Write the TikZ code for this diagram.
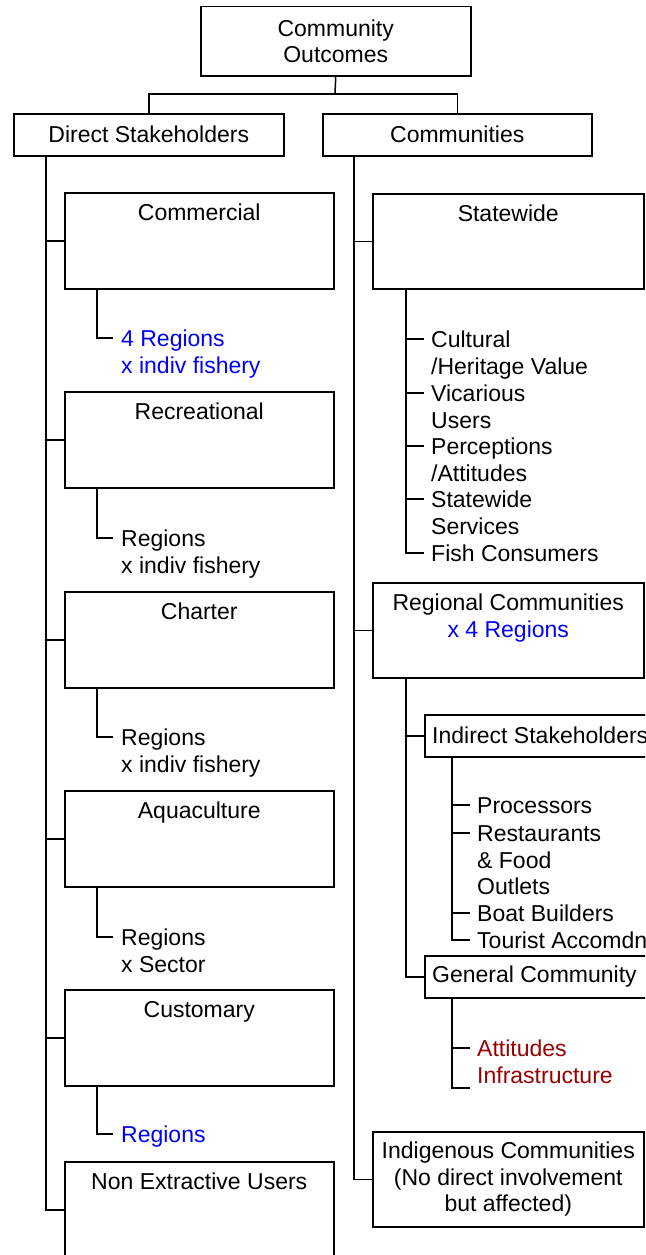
\documentclass[tikz,border=0pt]{standalone}
\usepackage{fontspec}
\setmainfont{Liberation Sans}
\definecolor{regblue}{RGB}{0,0,255}
\definecolor{attred}{RGB}{150,0,0}
\tikzset{
  box/.style={draw,line width=1.5pt,inner sep=0pt,anchor=north west},
  lbox/.style={box,minimum width=269pt,minimum height=96pt},
  rbox/.style={box,minimum width=271pt,minimum height=95pt},
  head/.style={anchor=north,inner sep=0pt,align=center},
  item/.style={anchor=north west,inner sep=0pt,align=left},
  link/.style={line width=1.5pt}
}

\begin{document}
\begin{tikzpicture}[x=1pt,y=-1pt,font=\fontsize{23}{26.7}\selectfont]
\useasboundingbox (0,0) rectangle (645,1255);
\clip (0,0) rectangle (645,1255);

\node[box,minimum width=270pt,minimum height=69pt,align=center] (co) at (200,6) {Community\\Outcomes};
\node[box,minimum width=270pt,minimum height=42pt] (ds) at (13,113) {Direct Stakeholders};
\node[box,minimum width=269pt,minimum height=42pt] (cm) at (322,113) {Communities};
\coordinate (split) at (335,94);
\draw[link] (co.south) -- (split);
\draw[link] (ds.north) |- (split) -| (cm.north);

\node[lbox] (comm) at (64,192) {};
\node[head] (commt) at ([yshift=-10pt]comm.north) {\strut Commercial};
\node[lbox] (rec) at (64,391) {};
\node[head] (rect) at ([yshift=-10pt]rec.north) {\strut Recreational};
\node[lbox] (cha) at (64,591) {};
\node[head] (chat) at ([yshift=-10pt]cha.north) {\strut Charter};
\node[lbox] (aqu) at (64,790) {};
\node[head] (aqut) at ([yshift=-10pt]aqu.north) {\strut Aquaculture};
\node[lbox] (cus) at (64,989) {};
\node[head] (cust) at ([yshift=-10pt]cus.north) {\strut Customary};
\node[lbox] (ne) at (64,1161) {};
\node[head] (net) at ([yshift=-10pt]ne.north) {\strut Non Extractive Users};

\node[item,text=regblue] (commr) at (121,327.5) {\strut 4 Regions\\x indiv fishery};
\node[item] (recr) at (121,527.5) {\strut Regions\\x indiv fishery};
\node[item] (char) at (121,726.5) {\strut Regions\\x indiv fishery};
\node[item] (aqur) at (121,926.5) {\strut Regions\\x Sector};
\node[item,text=regblue] (cusr) at (121,1123.5) {\strut Regions};

\coordinate (dstrunk) at ([xshift=33pt]ds.south west);
\draw[link] (dstrunk) |- (ne.west);
\draw[link] (comm.west) -- (comm.west -| dstrunk);
\draw[link] (rec.west) -- (rec.west -| dstrunk);
\draw[link] (cha.west) -- (cha.west -| dstrunk);
\draw[link] (aqu.west) -- (aqu.west -| dstrunk);
\draw[link] (cus.west) -- (cus.west -| dstrunk);
\draw[link] ([xshift=33pt]comm.south west) |- ([xshift=-8pt,yshift=-10.5pt]commr.north west);
\draw[link] ([xshift=33pt]rec.south west) |- ([xshift=-8pt,yshift=-10.5pt]recr.north west);
\draw[link] ([xshift=33pt]cha.south west) |- ([xshift=-8pt,yshift=-10.5pt]char.north west);
\draw[link] ([xshift=33pt]aqu.south west) |- ([xshift=-8pt,yshift=-10.5pt]aqur.north west);
\draw[link] ([xshift=33pt]cus.south west) |- ([xshift=-8pt,yshift=-10.5pt]cusr.north west);

\node[rbox] (sw) at (372,193) {};
\node[head] (swt) at ([yshift=-10pt]sw.north) {\strut Statewide};
\node[rbox] (rc) at (372,582) {};
\node[head] (rct) at ([yshift=-10pt]rc.north) {\strut Regional Communities\\\textcolor{regblue}{x 4 Regions}};
\node[rbox,align=center] (ind) at (372,1131) {Indigenous Communities\\(No direct involvement\\but affected)};
\node[box,minimum width=260pt,minimum height=42pt] (ist) at (424,714) {};
\node[anchor=west,inner sep=0pt] (istt) at ([xshift=8pt]ist.west) {Indirect Stakeholders};
\node[box,minimum width=260pt,minimum height=42pt] (gen) at (424,955) {};
\node[anchor=west,inner sep=0pt] (gent) at ([xshift=8pt]gen.west) {General Community};

\node[item] (swa) at (431,328.5) {\strut Cultural\\/Heritage Value};
\node[item] (swb) at (431,382.5) {\strut Vicarious\\Users};
\node[item] (swc) at (431,435.5) {\strut Perceptions\\/Attitudes};
\node[item] (swd) at (431,488.5) {\strut Statewide\\Services};
\node[item] (swe) at (431,542.5) {\strut Fish Consumers};
\node[item] (isa) at (477,794.5) {\strut Processors};
\node[item] (isb) at (477,822.5) {\strut Restaurants\\\& Food\\Outlets};
\node[item] (isc) at (477,902.5) {\strut Boat Builders};
\node[item] (isd) at (477,929.5) {\strut Tourist Accomdn};
\node[item,text=attred] (gena) at (477,1037.5) {\strut Attitudes\\Infrastructure};

\coordinate (cmtrunk) at ([xshift=32pt]cm.south west);
\draw[link] (cmtrunk) |- (ind.west);
\draw[link] (sw.west) -- (sw.west -| cmtrunk);
\draw[link] (rc.west) -- (rc.west -| cmtrunk);

\coordinate (swtrunk) at ([xshift=34pt]sw.south west);
\draw[link] (swtrunk) |- ([xshift=-7pt,yshift=-10.5pt]swe.north west);
\draw[link] ([xshift=-7pt,yshift=-10.5pt]swa.north west) -- ++(-18,0);
\draw[link] ([xshift=-7pt,yshift=-10.5pt]swb.north west) -- ++(-18,0);
\draw[link] ([xshift=-7pt,yshift=-10.5pt]swc.north west) -- ++(-18,0);
\draw[link] ([xshift=-7pt,yshift=-10.5pt]swd.north west) -- ++(-18,0);

\coordinate (rctrunk) at ([xshift=34pt]rc.south west);
\draw[link] (rctrunk) |- (gen.west);
\draw[link] (ist.west) -- (ist.west -| rctrunk);

\coordinate (isttrunk) at ([xshift=28pt]ist.south west);
\draw[link] (isttrunk) |- ([xshift=-7pt,yshift=-10.5pt]isd.north west);
\draw[link] ([xshift=-7pt,yshift=-10.5pt]isa.north west) -- ++(-18,0);
\draw[link] ([xshift=-7pt,yshift=-10.5pt]isb.north west) -- ++(-18,0);
\draw[link] ([xshift=-7pt,yshift=-10.5pt]isc.north west) -- ++(-18,0);

\coordinate (gentrunk) at ([xshift=28pt]gen.south west);
\coordinate (genend) at (470,1088);
\draw[link] (gentrunk) |- (genend);
\draw[link] ([xshift=-7pt,yshift=-10.5pt]gena.north west) -- ++(-18,0);

\end{tikzpicture}
\end{document}
